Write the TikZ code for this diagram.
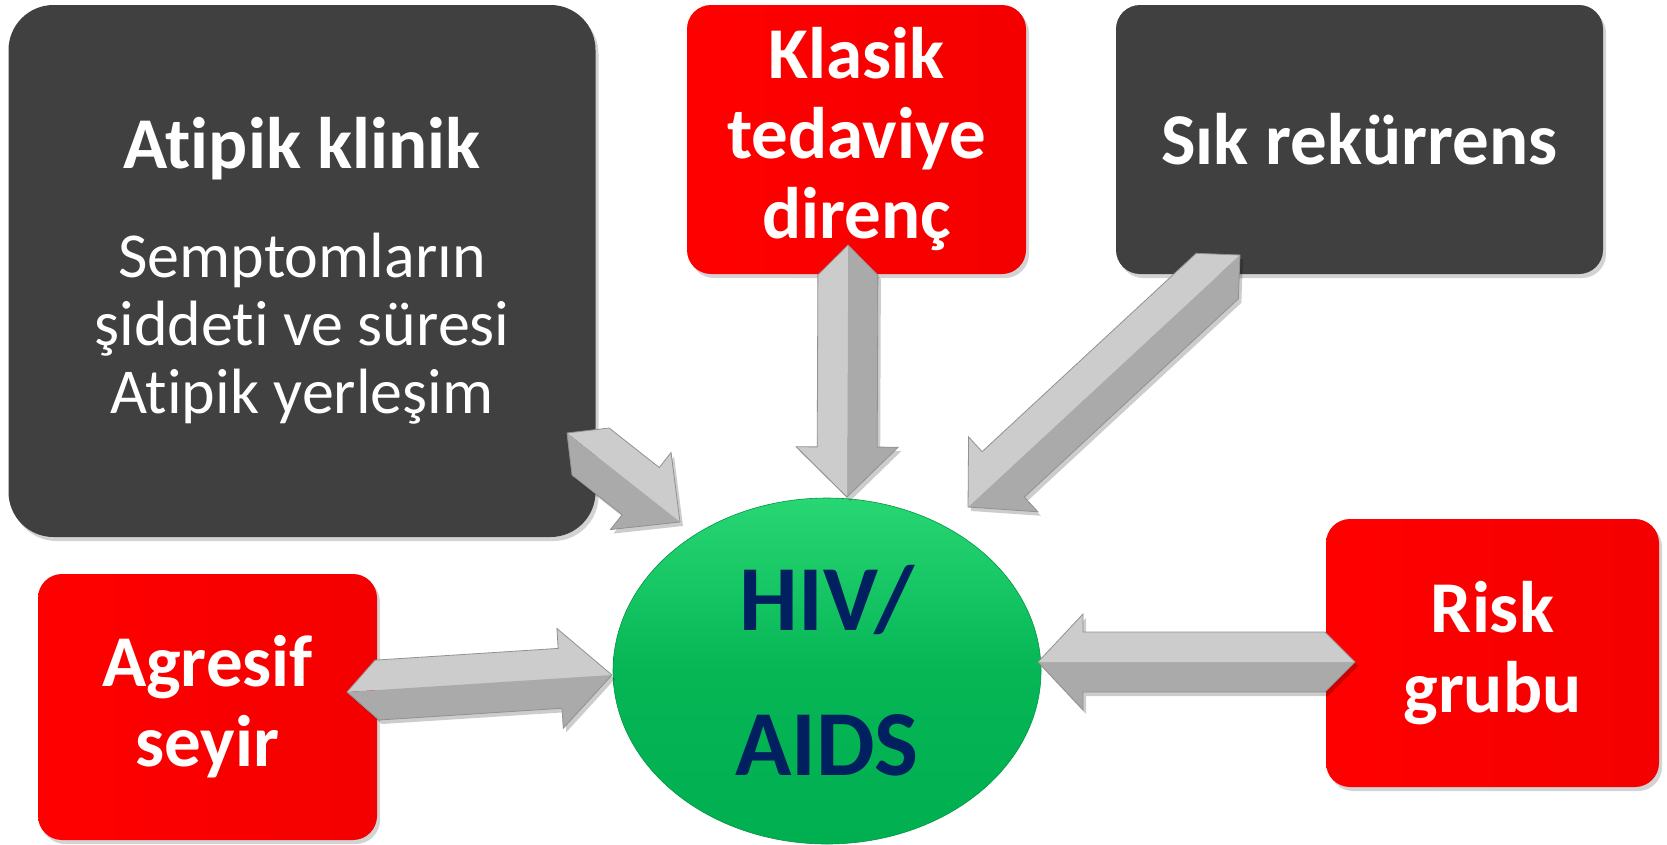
\documentclass[tikz,border=0pt]{standalone}
\usepackage{fontspec}
\setmainfont{Carlito}[RawFeature={-liga}]
\usetikzlibrary{calc,shapes.geometric,shadows}
\definecolor{darkbox}{RGB}{64,64,64}
\definecolor{redbox}{RGB}{255,0,0}
\definecolor{redboxdark}{RGB}{244,0,0}
\definecolor{greenell}{RGB}{0,176,80}
\definecolor{greenlight}{RGB}{40,215,115}
\definecolor{navy}{RGB}{0,32,96}
\definecolor{arrlight}{RGB}{204,204,204}
\definecolor{arrdark}{RGB}{170,170,170}
\definecolor{arredge}{RGB}{145,145,145}
\tikzset{
  box/.style={rounded corners=24pt, inner sep=0pt, align=center, text=white,
    drop shadow={shadow xshift=3pt, shadow yshift=-4pt, opacity=0.35}},
  darkboxstyle/.style={box, fill=darkbox},
  redboxstyle/.style={box, left color=redbox, right color=redboxdark},
  boldtext/.style={font=\fontsize{73}{80}\selectfont\bfseries},
  arrline/.style={draw=arredge, line width=0.8pt, line join=miter},
}
% #1 tail, #2 tip, #3 half shaft width, #4 half head width, #5 head length, #6 left colour, #7 right colour
\newcommand\blockarr[7]{%
  \pgfpointdiff{\pgfpointanchor{#1}{center}}{\pgfpointanchor{#2}{center}}%
  \pgfgetlastxy\arrdx\arrdy
  \pgfmathsetmacro\arrang{atan2(\arrdy,\arrdx)}%
  \pgfmathsetmacro\arrlen{veclen(\arrdx,\arrdy)}%
  \begin{scope}[shift={(#1)}, xshift=3pt, yshift=-4pt, rotate=\arrang, x=1pt, y=1pt]
    \fill[black, opacity=0.2] (0,0) -- (#3,#3) -- ({\arrlen-#5},#3) -- ({\arrlen-#5},#4) -- (\arrlen,0)
      -- ({\arrlen-#5},-#4) -- ({\arrlen-#5},-#3) -- (#3,-#3) -- cycle;
  \end{scope}
  \begin{scope}[shift={(#1)}, rotate=\arrang, x=1pt, y=1pt]
    \fill[#6] (0,0) -- (#3,#3) -- ({\arrlen-#5},#3) -- ({\arrlen-#5},#4) -- (\arrlen,0) -- cycle;
    \fill[#7] (0,0) -- (#3,-#3) -- ({\arrlen-#5},-#3) -- ({\arrlen-#5},-#4) -- (\arrlen,0) -- cycle;
    \draw[arrline] (0,0) -- (#3,#3) -- ({\arrlen-#5},#3) -- ({\arrlen-#5},#4) -- (\arrlen,0)
      -- ({\arrlen-#5},-#4) -- ({\arrlen-#5},-#3) -- (#3,-#3) -- cycle;
  \end{scope}
}
\begin{document}
\begin{tikzpicture}[x=1pt,y=-1pt]
\useasboundingbox (0,0) rectangle (1667,844);
% boxes
\node[darkboxstyle, rounded corners=45pt, minimum width=587pt, minimum height=532pt,
  font=\fontsize{64}{68}\selectfont] (atipik) at (302,271)
  {{\fontsize{73}{80}\selectfont\bfseries Atipik klinik}\\[41pt]Semptomların\\şiddeti ve süresi\\Atipik yerleşim};
\node[redboxstyle, boldtext, minimum width=339pt, minimum height=269pt] (klasik) at (856.5,139.5)
  {Klasik\\tedaviye\\direnç};
\node[darkboxstyle, boldtext, minimum width=487pt, minimum height=269pt] (sik) at (1359.5,139.5)
  {Sık rekürrens};
\node[redboxstyle, boldtext, minimum width=339pt, minimum height=266pt] (agresif) at (207.5,707)
  {Agresif\\seyir};
\node[redboxstyle, boldtext, minimum width=333pt, minimum height=268pt] (risk) at (1492.5,653)
  {Risk\\grubu};
% central ellipse
\node[ellipse, minimum width=428pt, minimum height=346pt, inner sep=0pt,
  top color=greenlight, bottom color=greenell, middle color=greenell!85!greenlight,
  draw=greenell!85!black, line width=0.6pt,
  text=navy, align=center, font=\fontsize{93}{145}\selectfont\bfseries] (hiv) at (827,671)
  {HIV/\\AIDS};
% arrow ends
\coordinate (a1t) at (347,692);  \coordinate (a1h) at (612,675);
\coordinate (a2t) at (1355,662); \coordinate (a2h) at (1038,662);
\coordinate (a3t) at (848,245);  \coordinate (a3h) at (847,497);
\coordinate (a4t) at (1240,255); \coordinate (a4h) at (968,507);
\coordinate (a5t) at (567,433);  \coordinate (a5h) at (680,522);
\blockarr{a1t}{a1h}{30}{50}{52}{arrlight}{arrdark}
\blockarr{a2t}{a2h}{30}{48}{45}{arrdark}{arrlight}
\blockarr{a3t}{a3h}{30}{51}{50}{arrdark}{arrlight}
\blockarr{a4t}{a4h}{31}{51}{48}{arrdark}{arrlight}
\blockarr{a5t}{a5h}{30}{49}{50}{arrlight}{arrdark}
\end{tikzpicture}
\end{document}
